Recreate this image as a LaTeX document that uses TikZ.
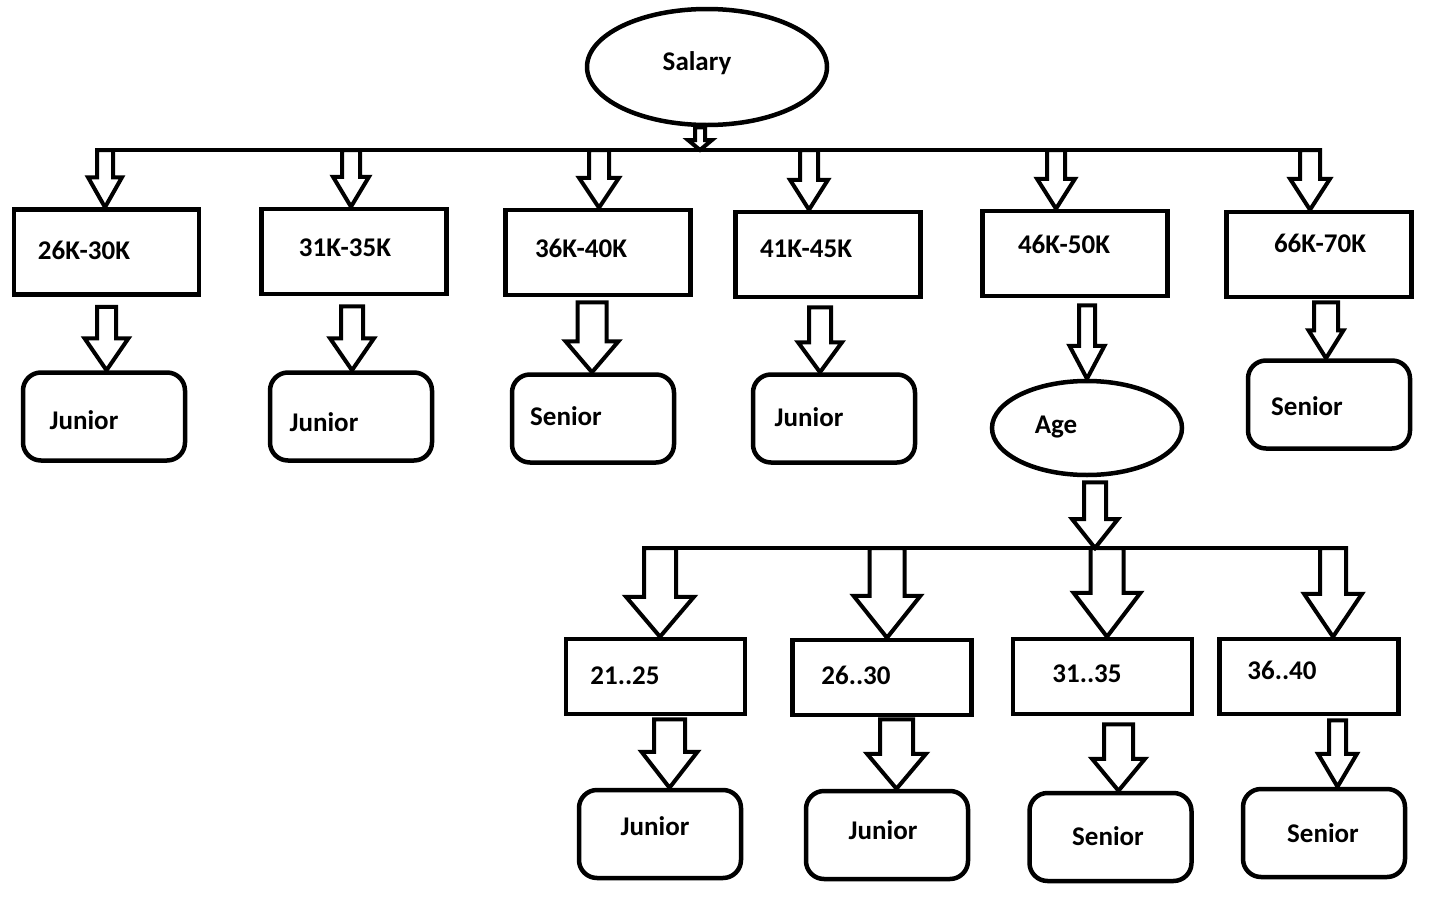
\documentclass[tikz,border=0pt]{standalone}
\usepackage{fontspec}
\setmainfont{Carlito}
\usetikzlibrary{calc}
\usetikzlibrary{shapes.geometric}

\tikzset{
  box/.style={draw,line width=4.5pt,inner sep=0pt,minimum width=185pt,minimum height=85pt},
  agebox/.style={box,minimum width=179pt,minimum height=75pt},
  leaf/.style={draw,line width=4.5pt,inner sep=0pt,rounded corners=18pt,minimum width=162pt,minimum height=88pt},
  oval/.style={draw,ellipse,line width=4.5pt,inner sep=0pt},
  txt/.style={inner sep=0pt,text height=17.5pt,text depth=0pt,font=\fontsize{27}{31}\selectfont\bfseries},
  bus/.style={line width=4.5pt},
  fat/.style={line width=4pt,line join=miter}
}

% hollow block arrow: x and top from #1, tip from #2
\newcommand{\fatarrow}[5]{%
  \draw[fat] let \p1=#1, \p2=#2 in
    (\x1-#3pt,\y1) -- (\x1-#3pt,\y2+#5pt) -- (\x1-#4pt,\y2+#5pt) -- (\x1,\y2)
    -- (\x1+#4pt,\y2+#5pt) -- (\x1+#3pt,\y2+#5pt) -- (\x1+#3pt,\y1) -- cycle;}

\begin{document}
\begin{tikzpicture}[x=1pt,y=-1pt]
  \useasboundingbox (0,0) rectangle (1433,905);

  \node[oval,minimum width=240pt,minimum height=116pt] (sal) at (707,67) {};   \node[txt] (sal-t) at (697,62) {Salary};

  \node[box] (r1) at (106.5,252) {};    \node[txt] (r1-t) at (84,251) {26K-30K};
  \node[box] (r2) at (354,251.5) {};    \node[txt] (r2-t) at (345,248) {31K-35K};
  \node[box] (r3) at (598,252.5) {};    \node[txt] (r3-t) at (581,249) {36K-40K};
  \node[box] (r4) at (828,254.5) {};    \node[txt] (r4-t) at (806,249) {41K-45K};
  \node[box] (r5) at (1075,253.5) {};   \node[txt] (r5-t) at (1064,245) {46K-50K};
  \node[box] (r6) at (1319,254.5) {};   \node[txt] (r6-t) at (1320,244) {66K-70K};

  \node[leaf] (l1) at (104,416.5) {};   \node[txt] (l1-t) at (84,421) {Junior};
  \node[leaf] (l2) at (351,416.5) {};   \node[txt] (l2-t) at (324,423) {Junior};
  \node[leaf] (l3) at (593,418.5) {};   \node[txt] (l3-t) at (566,417) {Senior};
  \node[leaf] (l4) at (834,418.5) {};   \node[txt] (l4-t) at (809,418) {Junior};
  \node[oval,minimum width=190pt,minimum height=94pt] (age) at (1087,428) {};  \node[txt] (age-t) at (1056,425) {Age};
  \node[leaf] (l6) at (1329,404.5) {};  \node[txt] (l6-t) at (1307,407) {Senior};

  \node[agebox] (a1) at (655.5,676.5) {};  \node[txt] (a1-t) at (625,676) {21..25};
  \node[agebox] (a2) at (882,677.5) {};    \node[txt] (a2-t) at (856,676) {26..30};
  \node[agebox] (a3) at (1102.5,676.5) {}; \node[txt] (a3-t) at (1087,674) {31..35};
  \node[agebox] (a4) at (1309,676.5) {};   \node[txt] (a4-t) at (1282,671) {36..40};

  \node[leaf] (m1) at (660,834) {};     \node[txt] (m1-t) at (655,827) {Junior};
  \node[leaf] (m2) at (887,835) {};     \node[txt] (m2-t) at (883,831) {Junior};
  \node[leaf] (m3) at (1110.5,837) {};  \node[txt] (m3-t) at (1108,837) {Senior};
  \node[leaf] (m4) at (1324,833) {};    \node[txt] (m4-t) at (1323,834) {Senior};

  % bus lines
  \coordinate (bus1w) at (97,150);   \coordinate (bus1e) at (1320,150);   \coordinate (hub1) at (700,150);
  \coordinate (b1) at (105,150);  \coordinate (b2) at (351,150);  \coordinate (b3) at (599,150);
  \coordinate (b4) at (809,150);  \coordinate (b5) at (1056,150); \coordinate (b6) at (1310,150);
  \coordinate (bus2w) at (644,548);  \coordinate (bus2e) at (1346,548);  \coordinate (hub2) at (1095,548);
  \coordinate (c1) at (660,548);  \coordinate (c2) at (887,548);  \coordinate (c3) at (1107,548);  \coordinate (c4) at (1333,548);

  \draw[bus] (bus1w) -- (bus1e);
  \draw[bus] (bus2w) -- (bus2e);

  \fatarrow{([xshift=-7]sal.south)}{(hub1)}{5}{12}{10}

  \fatarrow{(b1)}{(r1.north)}{8}{17}{30}
  \fatarrow{(b2)}{(r2.north)}{9}{18}{30}
  \fatarrow{(b3)}{(r3.north)}{10}{20}{30}
  \fatarrow{(b4)}{(r4.north)}{9}{19}{30}
  \fatarrow{(b5)}{(r5.north)}{9}{19}{30}
  \fatarrow{(b6)}{(r6.north)}{10}{20}{31}

  \fatarrow{([shift={(0,10)}]r1.south)}{(l1.north)}{9.5}{22}{32}
  \fatarrow{([shift={(-2,10)}]r2.south)}{(l2.north)}{11}{22}{32}
  \fatarrow{([shift={(-6,5)}]r3.south)}{(l3.north)}{14.5}{26.5}{31}
  \fatarrow{([shift={(-8,8)}]r4.south)}{(l4.north)}{11}{22}{30}
  \fatarrow{([shift={(12,7)}]r5.south)}{(age.north)}{8}{17.5}{33}
  \fatarrow{([shift={(7,3)}]r6.south)}{(l6.north)}{12}{17.5}{28}

  \fatarrow{([shift={(8,5)}]age.south)}{(hub2)}{11}{23}{29}

  \fatarrow{(c1)}{(a1.north)}{16}{34}{40}
  \fatarrow{(c2)}{(a2.north)}{17.5}{33.5}{42}
  \fatarrow{(c3)}{(a3.north)}{16.5}{33.5}{44}
  \fatarrow{(c4)}{(a4.north)}{13}{29}{43}

  \fatarrow{([shift={(14,3)}]a1.south)}{(m1.north)}{15.5}{28}{36}
  \fatarrow{([shift={(14.5,2)}]a2.south)}{(m2.north)}{16.5}{29.5}{35}
  \fatarrow{([shift={(16,8)}]a3.south)}{(m3.north)}{14.5}{26.5}{32}
  \fatarrow{([shift={(28.5,4)}]a4.south)}{(m4.north)}{8.5}{19.5}{33}
\end{tikzpicture}
\end{document}
